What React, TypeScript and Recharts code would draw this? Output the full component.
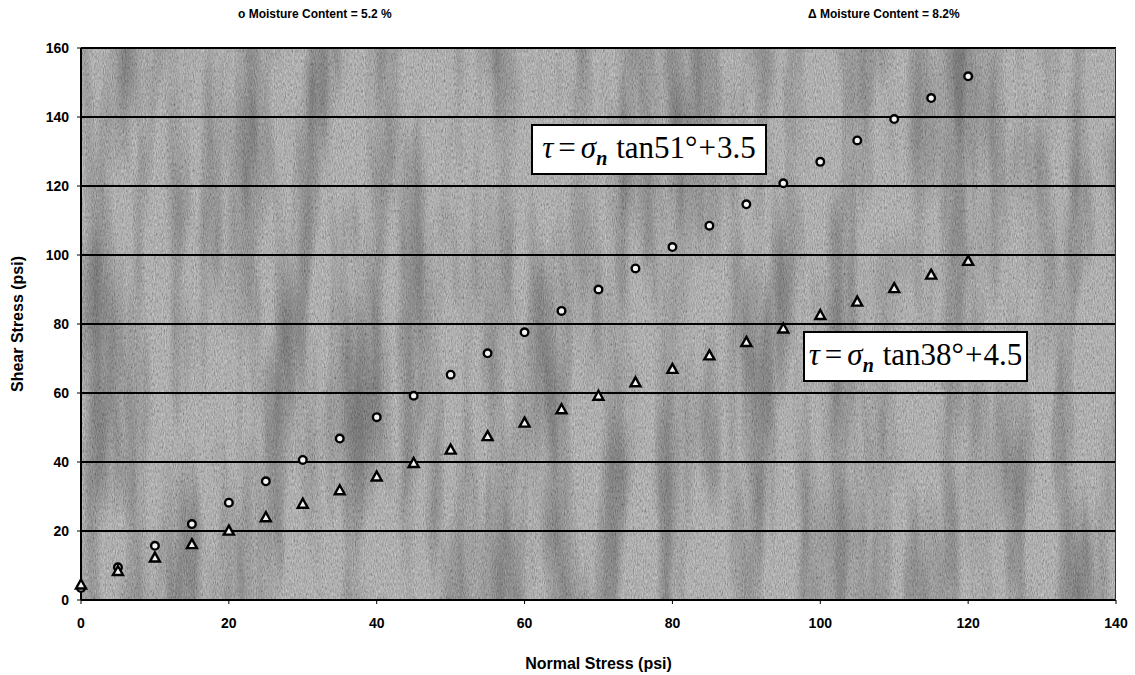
import React from "react";
import {
  ScatterChart,
  Scatter,
  XAxis,
  YAxis,
  CartesianGrid,
  Label,
} from "recharts";

// Normal stress (psi) values
const normalStress = [0, 5, 10, 15, 20, 25, 30, 35, 40, 45, 50, 55, 60, 65, 70, 75, 80, 85, 90, 95, 100, 105, 110, 115, 120];
// Shear stress, moisture content 5.2 %
const shear52 = [3.5, 9.5, 15.7, 22, 28.2, 34.4, 40.6, 46.8, 53, 59.2, 65.3, 71.5, 77.6, 83.8, 90, 96.1, 102.3, 108.5, 114.7, 120.8, 127, 133.2, 139.4, 145.5, 151.8];
// Shear stress, moisture content 8.2 %
const shear82 = [4.5, 8.4, 12.3, 16.2, 20.1, 24, 27.9, 31.8, 35.8, 39.7, 43.6, 47.5, 51.4, 55.3, 59.2, 63.1, 67, 70.9, 74.8, 78.7, 82.6, 86.5, 90.4, 94.3, 98.3];

const xTicks = [0, 20, 40, 60, 80, 100, 120, 140];
const yTicks = [0, 20, 40, 60, 80, 100, 120, 140, 160];

const seriesLabels = ["o Moisture Content = 5.2 %", "\u0394 Moisture Content = 8.2%"];

const data52 = normalStress.map((x, i) => ({ x, y: shear52[i] }));
const data82 = normalStress.map((x, i) => ({ x, y: shear82[i] }));

const SANS = "'Liberation Sans', Arial, sans-serif";
const SERIF = "'Liberation Serif', 'Times New Roman', serif";

const CircleShape = (props: any) => {
  const { cx, cy } = props;
  if (cx == null || cy == null) return null;
  return <circle cx={cx} cy={cy} r={3.8} fill="#f4f4f4" stroke="#000" strokeWidth={2.4} />;
};

const TriangleShape = (props: any) => {
  const { cx, cy } = props;
  if (cx == null || cy == null) return null;
  const s = 5;
  const pts = `${cx},${cy - s} ${cx + s},${cy + s * 0.8} ${cx - s},${cy + s * 0.8}`;
  return <polygon points={pts} fill="#f4f4f4" stroke="#000" strokeWidth={2.4} strokeLinejoin="miter" />;
};

const tickStyle = { fontFamily: SANS, fontWeight: 700, fontSize: 14, fill: "#000" };

const Equation = ({ left, top, width, angle, c }: { left: number; top: number; width: number; angle: string; c: string }) => (
  <div
    style={{
      position: "absolute",
      left,
      top,
      width,
      height: 51,
      background: "#fff",
      border: "2px solid #000",
      boxSizing: "border-box",
      fontFamily: SERIF,
      fontSize: 31,
      color: "#000",
      display: "flex",
      alignItems: "center",
      justifyContent: "center",
      whiteSpace: "nowrap",
      lineHeight: 1,
      paddingBottom: 4,
    }}
  >
    <span style={{ fontStyle: "italic" }}>{"\u03C4"}</span>
    <span style={{ margin: "0 5px" }}>=</span>
    <span style={{ fontStyle: "italic" }}>{"\u03C3"}</span>
    <span style={{ fontStyle: "italic", fontWeight: 700, fontSize: 20, position: "relative", top: 10 }}>n</span>
    <span style={{ marginLeft: 9 }}>{`tan${angle}\u00B0`}</span>
    <span style={{ margin: "0 1px" }}>+</span>
    <span>{c}</span>
  </div>
);

export default function App() {
  return (
    <div style={{ position: "absolute", left: 0, top: 0, width: 1135, height: 675, background: "#fff" }}>
      <ScatterChart width={1135} height={675} margin={{ top: 48, right: 19, bottom: 0, left: 0 }}>
        <defs>
          <filter id="grain" x="0" y="0" width="100%" height="100%">
            <feTurbulence type="fractalNoise" baseFrequency="0.9 0.3" numOctaves={3} seed={7} result="t" />
            <feColorMatrix
              in="t"
              type="matrix"
              values="0.6 0.6 0 0 -0.1  0.6 0.6 0 0 -0.1  0.6 0.6 0 0 -0.1  0 0 0 0 1"
            />
          </filter>
          <filter id="patches" x="0" y="0" width="100%" height="100%">
            <feTurbulence type="fractalNoise" baseFrequency="0.035 0.004" numOctaves={3} seed={3} result="p" />
            <feColorMatrix
              in="p"
              type="matrix"
              values="0 0 0 0 0  0 0 0 0 0  0 0 0 0 0  1.5 0 0 0 -0.6"
            />
          </filter>
          <pattern id="bg" patternUnits="userSpaceOnUse" x="0" y="0" width="1135" height="675">
            <rect x="0" y="0" width="1135" height="675" fill="#9b9b9b" />
            <rect x="0" y="0" width="1135" height="675" filter="url(#grain)" opacity={0.6} />
            <rect x="0" y="0" width="1135" height="675" filter="url(#patches)" opacity={0.45} />
          </pattern>
        </defs>
        <CartesianGrid
          horizontal
          vertical={false}
          stroke="#000"
          strokeWidth={2}
          strokeOpacity={1}
          fill="url(#bg)"
          fillOpacity={1}
        />
        <XAxis
          type="number"
          dataKey="x"
          domain={[0, 140]}
          ticks={xTicks}
          interval={0}
          height={75}
          tick={tickStyle}
          tickSize={4}
          tickMargin={14}
          axisLine={{ stroke: "#000", strokeWidth: 2 }}
          tickLine={{ stroke: "#000" }}
        >
          <Label
            value="Normal Stress (psi)"
            position="insideBottom"
            offset={6}
            style={{ fontFamily: SANS, fontWeight: 700, fontSize: 16, fill: "#000" }}
          />
        </XAxis>
        <YAxis
          type="number"
          dataKey="y"
          domain={[0, 160]}
          ticks={yTicks}
          interval={0}
          width={81}
          tick={tickStyle}
          tickSize={4}
          tickMargin={8}
          axisLine={{ stroke: "#000", strokeWidth: 2 }}
          tickLine={{ stroke: "#000" }}
        >
          <Label
            value="Shear Stress (psi)"
            angle={-90}
            position="insideLeft"
            offset={17}
            style={{ fontFamily: SANS, fontWeight: 700, fontSize: 16, fill: "#000", textAnchor: "middle" }}
          />
        </YAxis>
        <Scatter name="5.2%" data={data52} shape={CircleShape} isAnimationActive={false} />
        <Scatter name="8.2%" data={data82} shape={TriangleShape} isAnimationActive={false} />
      </ScatterChart>
      <div style={{ position: "absolute", left: 238, top: 7, fontFamily: SANS, fontWeight: 700, fontSize: 12, whiteSpace: "nowrap" }}>
        {seriesLabels[0]}
      </div>
      <div style={{ position: "absolute", left: 808, top: 7, fontFamily: SANS, fontWeight: 700, fontSize: 12, whiteSpace: "nowrap" }}>
        {seriesLabels[1]}
      </div>
      <div style={{ position: "absolute", left: 1115, top: 48, width: 1, height: 552, background: "#333" }} />
      <Equation left={531} top={124} width={236} angle="51" c="3.5" />
      <Equation left={803} top={331} width={225} angle="38" c="4.5" />
    </div>
  );
}
